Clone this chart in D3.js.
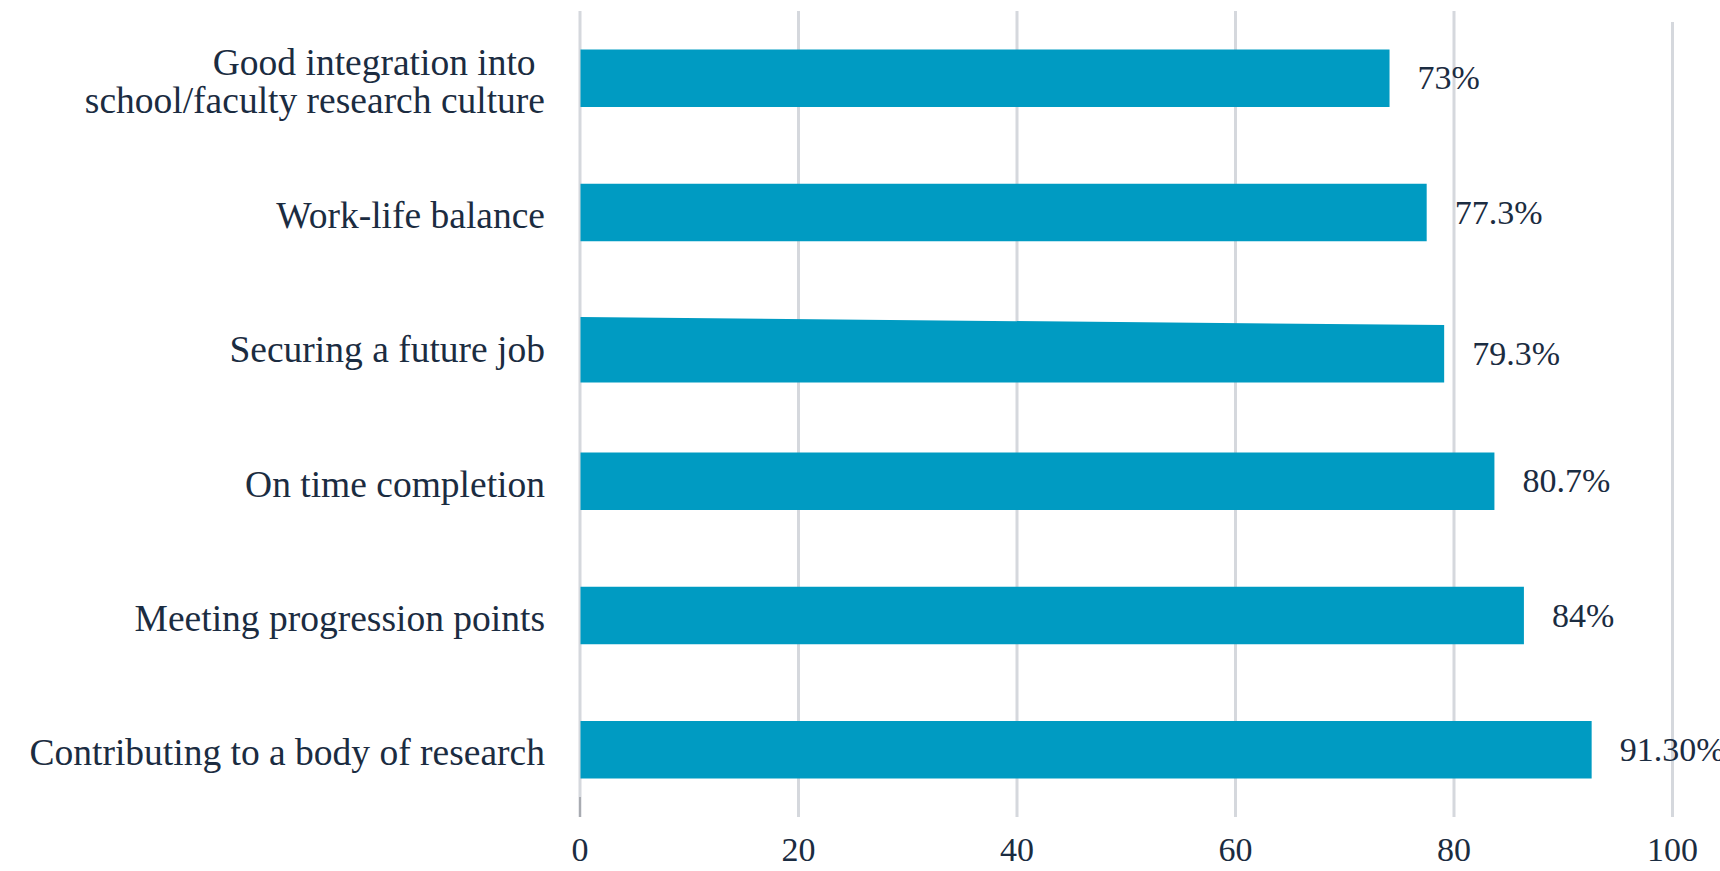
<!DOCTYPE html>
<html>
<head>
<meta charset="utf-8">
<script src="https://cdn.jsdelivr.net/npm/d3@7"></script>
<style>
  html, body { margin: 0; padding: 0; background: #ffffff; overflow: hidden; }
  svg { display: block; }
  text { font-family: "Liberation Serif", "Times New Roman", serif; fill: #1b2c41; }
</style>
</head>
<body>
<svg id="chart" width="1720" height="871"></svg>
<script>
// ---- data ----
const categories = [
  ["Good integration into ", "school/faculty research culture"],
  ["Work-life balance"],
  ["Securing a future job"],
  ["On time completion"],
  ["Meeting progression points"],
  ["Contributing to a body of research"]
];
const barValues = [74.1, 77.5, 79.1, 83.7, 86.4, 92.6];
const valueLabels = ["73%", "77.3%", "79.3%", "80.7%", "84%", "91.30%"];
const tickValues = [0, 20, 40, 60, 80, 100];
const tickLabels = ["0", "20", "40", "60", "80", "100"];

// ---- layout ----
const W = 1720, H = 871;
const plotLeft = 580, plotRight = 1672.5, plotTop = 11, plotBottom = 817;
const barColor = "#009bc2";
const gridColor = "#d5d8dd";

const svg = d3.select("#chart");

const x = d3.scaleLinear().domain([0, 100]).range([plotLeft, plotRight]);
const y = d3.scaleBand()
  .domain(d3.range(categories.length))
  .range([plotTop, plotBottom])
  .paddingInner(0.572)
  .paddingOuter(0.286);

// the "Securing a future job" bar is drawn slightly lower with a slanted top edge in the original
const barShift = i => (i === 2 ? 7 : 0);
const barSkew = i => (i === 2 ? 8 : 0);

// grid lines
svg.append("g").selectAll("line")
  .data(tickValues)
  .join("line")
  .attr("x1", d => x(d)).attr("x2", d => x(d))
  .attr("y1", (d, i) => i === tickValues.length - 1 ? plotTop + 11 : plotTop)
  .attr("y2", plotBottom)
  .attr("stroke", gridColor)
  .attr("stroke-width", 3);

// darker axis stub at the bottom of the zero line
svg.append("line")
  .attr("x1", x(0)).attr("x2", x(0))
  .attr("y1", plotBottom - 20).attr("y2", plotBottom)
  .attr("stroke", "#a8abb1")
  .attr("stroke-width", 2);

// bars
svg.append("g").selectAll("path")
  .data(barValues)
  .join("path")
  .attr("fill", barColor)
  .attr("d", (d, i) => {
    const x0 = x(0) + 0.5, x1 = x(d);
    const top = y(i) + barShift(i), bot = top + y.bandwidth();
    const skew = barSkew(i);
    return `M${x0},${top - skew}L${x1},${top}L${x1},${bot}L${x0},${bot}Z`;
  });

// value labels
svg.append("g").selectAll("text")
  .data(barValues)
  .join("text")
  .attr("x", d => x(d) + 28)
  .attr("y", (d, i) => y(i) + barShift(i) + y.bandwidth() / 2 + 11)
  .attr("font-size", 34)
  .text((d, i) => valueLabels[i]);

// category labels
const catG = svg.append("g");
categories.forEach((lines, i) => {
  const cy = y(i) + y.bandwidth() / 2;
  const t = catG.append("text")
    .attr("text-anchor", "end")
    .attr("font-size", 37.5)
    .style("white-space", "pre")
    .attr("xml:space", "preserve");
  const lh = 38.4;
  const start = cy + 15.6 - (lines.length - 1) * lh / 2;
  lines.forEach((ln, j) => {
    t.append("tspan")
      .attr("x", 545)
      .attr("y", start + j * lh)
      .text(ln);
  });
});

// x tick labels
svg.append("g").selectAll("text")
  .data(tickValues)
  .join("text")
  .attr("x", d => x(d))
  .attr("y", 861)
  .attr("text-anchor", "middle")
  .attr("font-size", 34)
  .text((d, i) => tickLabels[i]);
</script>
</body>
</html>
